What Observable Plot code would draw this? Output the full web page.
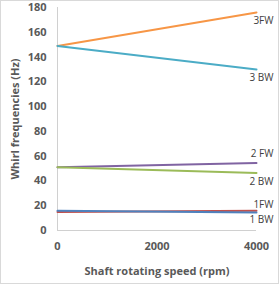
<!DOCTYPE html>
<html><head><meta charset="utf-8">
<script src="https://cdn.jsdelivr.net/npm/d3@7"></script>
<script src="https://cdn.jsdelivr.net/npm/@observablehq/plot@0.6"></script>
<style>
body{margin:0;background:#fff;}
#c svg{border:1px solid #d9d9d9;display:block;}
</style>
</head><body><div id="c"></div>
<script>
const speeds = [0, 4000];
const modes = ["3FW", "3 BW", "2 FW", "2 BW", "1FW", "1 BW"];
const startHz = [149, 149, 51, 51, 15, 16];
const endHz = [176, 130, 54.5, 46.5, 16, 14.5];
const colors = ["#F79646", "#4BACC6", "#8064A2", "#9BBB59", "#C0504D", "#4F81BD"];
const labelDy = [8, 8, -9, 9, -6, 7];
const yTicks = [0, 20, 40, 60, 80, 100, 120, 140, 160, 180];
const xTicks = [0, 2000, 4000];

const rows = [];
modes.forEach((m, i) => {
  rows.push({mode: m, rpm: speeds[0], hz: startHz[i]});
  rows.push({mode: m, rpm: speeds[1], hz: endHz[i]});
});
const ends = modes.map((m, i) => ({mode: m, rpm: speeds[1], hz: endHz[i]}));

const font = "Open Sans, Lato, sans-serif";
const chart = Plot.plot({
  width: 277, height: 282,
  marginLeft: 56, marginRight: 22, marginTop: 6, marginBottom: 53,
  style: {fontFamily: font, background: "#fff", color: "#595959"},
  x: {domain: [0, 4000], ticks: xTicks, label: null},
  y: {domain: [0, 180], ticks: yTicks, label: null},
  color: {domain: modes, range: colors},
  marks: [
    Plot.ruleY([0], {stroke: "#d0d0d0", strokeWidth: 1}),
    Plot.ruleX([0], {stroke: "#d0d0d0", strokeWidth: 1}),
    Plot.axisY({ticks: yTicks, tickSize: 0, tickPadding: 11, fontSize: 11, fontWeight: "bold", fill: "#595959",
      label: "Whirl frequencies (Hz)", labelAnchor: "center", labelArrow: "none", labelOffset: 46}),
    Plot.axisX({ticks: xTicks, tickFormat: "d", tickSize: 0, tickPadding: 12, fontSize: 11, fontWeight: "bold", fill: "#595959",
      label: "Shaft rotating speed (rpm)", labelAnchor: "center", labelArrow: "none", labelOffset: 44}),
    Plot.line(rows, {x: "rpm", y: "hz", z: "mode", stroke: "mode", strokeWidth: 2}),
    ...modes.map((m, i) => Plot.text([ends[i]], {x: "rpm", y: "hz", text: "mode", textAnchor: "end", dx: 17, dy: labelDy[i], fontSize: 10, fill: "#404040"}))
  ]
});
document.getElementById("c").appendChild(chart);
</script>
</body></html>
